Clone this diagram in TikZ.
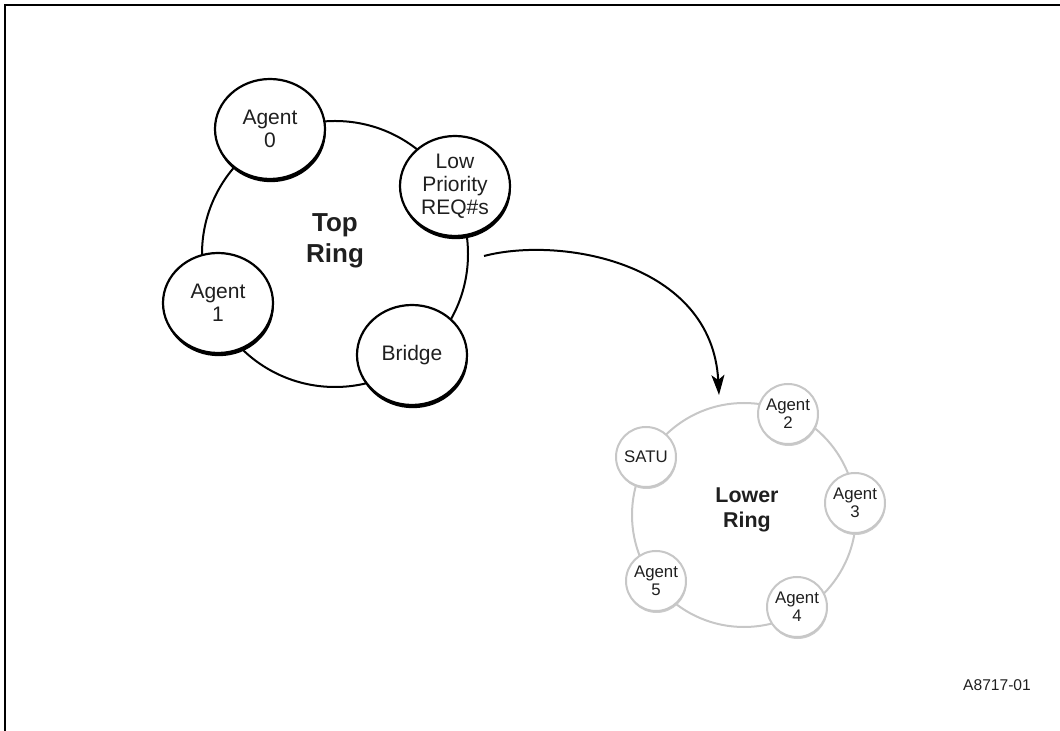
\documentclass[tikz,border=0pt]{standalone}
\usepackage{fontspec}
\setmainfont{Liberation Sans}
\usetikzlibrary{shapes.geometric, shadows, arrows.meta}
\definecolor{ringgray}{gray}{0.78}
\definecolor{inkgray}{gray}{0.12}
\tikzstyle{ring} = [circle, draw, line width = 1pt, inner sep = 0pt]
\tikzstyle{topagent} = [ellipse, draw, fill = white, line width = 1.1pt, minimum width = 55pt, minimum height = 50pt, inner sep = 0pt, align = center, text = inkgray, font = \fontsize{10.5}{11.5}\selectfont, drop shadow = {shadow xshift = 0.4pt, shadow yshift = -1.6pt, fill = black, opacity = 1}]
\tikzstyle{lowagent} = [circle, draw = ringgray, fill = white, line width = 1pt, minimum size = 30pt, inner sep = 0pt, align = center, text = inkgray, font = \fontsize{8.4}{8.8}\selectfont, drop shadow = {shadow xshift = 0.3pt, shadow yshift = -1pt, fill = black!20, opacity = 1}]

\begin{document}
\begin{tikzpicture}[x=0.5pt, y=-0.5pt, flow/.style={line width = 1pt, -{Stealth[length = 10pt, width = 6.5pt, inset = 2.5pt]}}]
		
		\useasboundingbox (0,0) rectangle (1060,731);
		
		% Frame
		\draw[line width = 1pt] (5,731) -- (5,5) -- (1060,5);
		
		% Coordinates
		\coordinate (T) at (335,254);
		\coordinate (L) at (744,515);
		\coordinate (arrS) at (484,256);
		\coordinate (arrE) at (719,395);
		
		% Top Ring
		\node (topring) [ring, minimum size = 133pt] at (T) {};
		\node (toptext) [align = center, text = inkgray, font = \fontsize{13}{15.5}\selectfont\bfseries] at (335,241) {Top\\Ring};
		\node (a0) [topagent] at (270,129) {Agent\\0};
		\node (lp) [topagent] at (455,186) {Low\\Priority\\REQ\#s};
		\node (a1) [topagent] at (218,303) {Agent\\1};
		\node (br) [topagent] at (412,355) {Bridge};
		
		% Lower Ring
		\node (lowring) [ring, draw = ringgray, minimum size = 112pt] at (L) {};
		\node (lowtext) [align = center, text = inkgray, font = \fontsize{10.7}{12.5}\selectfont\bfseries] at (747,510) {Lower\\Ring};
		\node (a2) [lowagent] at (788,414) {Agent\\2};
		\node (satu) [lowagent] at (646,457) {SATU};
		\node (a3) [lowagent] at (855,503) {Agent\\3};
		\node (a5) [lowagent] at (656,581) {Agent\\5};
		\node (a4) [lowagent] at (797,607) {Agent\\4};
		
		% Arrow
		\draw[flow] (arrS) .. controls (560,236) and (712,262) .. (arrE);
		
		% Figure number
		\node (fig) [text = inkgray, font = \fontsize{7.8}{9}\selectfont] at (997,685) {A8717-01};
	\end{tikzpicture}
\end{document}
